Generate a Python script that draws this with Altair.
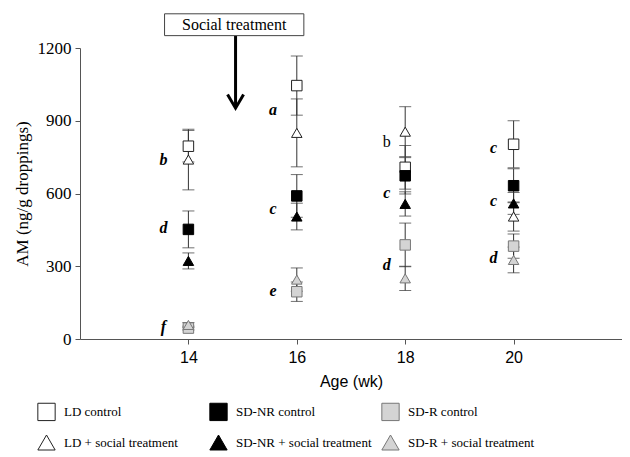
import altair as alt
import pandas as pd

weeks = [14, 16, 18, 20]
groups = ["LD control", "LD + social treatment", "SD-NR control",
          "SD-NR + social treatment", "SD-R control", "SD-R + social treatment"]

ld_ctrl_mean = [795, 1045, 708, 803]
ld_ctrl_err = [65, 122, 90, 97]
ld_soc_mean = [740, 850, 855, 505]
ld_soc_err = [125, 140, 103, 60]
sdnr_ctrl_mean = [452, 590, 673, 632]
sdnr_ctrl_err = [76, 88, 75, 70]
sdnr_soc_mean = [322, 505, 557, 559]
sdnr_soc_err = [33, 55, 50, 45]
sdr_ctrl_mean = [45, 195, 388, 383]
sdr_ctrl_err = [8, 40, 90, 50]
sdr_soc_mean = [58, 245, 250, 326]
sdr_soc_err = [10, 48, 50, 53]

means = [ld_ctrl_mean, ld_soc_mean, sdnr_ctrl_mean, sdnr_soc_mean, sdr_ctrl_mean, sdr_soc_mean]
errs = [ld_ctrl_err, ld_soc_err, sdnr_ctrl_err, sdnr_soc_err, sdr_ctrl_err, sdr_soc_err]

shapes = ["square", "triangle-up", "square", "triangle-up", "square", "triangle-up"]
fills = ["#ffffff", "#ffffff", "#000000", "#000000", "#d4d4d4", "#d4d4d4"]
strokes = ["#222222", "#222222", "#000000", "#000000", "#777777", "#777777"]

letter_text = ["b", "d", "f", "a", "c", "e", "b", "c", "d", "c", "c", "d"]
letter_x = [13.54, 13.54, 13.54, 15.56, 15.56, 15.56, 17.66, 17.66, 17.66, 19.63, 19.63, 19.63]
letter_y = [738, 458, 50, 944, 536, 198, 814, 602, 305, 788, 570, 335]
letter_italic = [True, True, True, True, True, True, False, True, True, True, True, True]

ann_text = ["Social treatment"]
box_x = [13.56]
box_x2 = [16.13]
box_y = [1251]
box_y2 = [1341]
arrow_x = [14.87]
arrow_top = [1251]
arrow_bottom = [960]
arrow_head = [985]

rows = []
for g, m, e in zip(groups, means, errs):
    for w, mv, ev in zip(weeks, m, e):
        rows.append({"week": w, "group": g, "mean": mv, "lo": mv - ev, "hi": mv + ev})
df = pd.DataFrame(rows)

letters = pd.DataFrame({"x": letter_x, "y": letter_y, "t": letter_text, "it": letter_italic})
ann = pd.DataFrame({"x": box_x, "x2": box_x2, "y": box_y, "y2": box_y2, "t": ann_text,
                    "ax": arrow_x, "at": arrow_top, "ab": arrow_bottom, "ah": arrow_head})

XT = "Age (wk)"
YT = "AM (ng/g droppings)"
xs = alt.Scale(domain=[12, 22], nice=False, zero=False)
ys = alt.Scale(domain=[0, 1200], nice=False)
xax = alt.Axis(values=weeks, grid=False, labelFont="Liberation Sans", labelFontSize=16,
               titleFont="Liberation Sans", titleFontSize=16, titleFontWeight="normal",
               labelPadding=5, titlePadding=8)
yax = alt.Axis(values=[0, 300, 600, 900, 1200], grid=False, format="d",
               labelFont="Liberation Serif", labelFontSize=17,
               titleFont="Liberation Serif", titleFontSize=17, titleFontWeight="normal",
               labelPadding=4, titlePadding=6)


def X(f):
    return alt.X(f, type="quantitative", scale=xs, axis=xax, title=XT)


def Y(f):
    return alt.Y(f, type="quantitative", scale=ys, axis=yax, title=YT)


base = alt.Chart(df)

bars = base.mark_rule(color="#333333", strokeWidth=1).encode(x=X("week"), y=Y("lo"), y2="hi")
cap_lo = base.mark_tick(orient="horizontal", size=12, thickness=1, color="#333333").encode(x=X("week"), y=Y("lo"))
cap_hi = base.mark_tick(orient="horizontal", size=12, thickness=1, color="#333333").encode(x=X("week"), y=Y("hi"))

legend = alt.Legend(orient="none", legendX=-43, legendY=354, columns=3, gridAlign="all",
                    columnPadding=7, rowPadding=10, symbolSize=300, labelOffset=8,
                    symbolStrokeWidth=1, labelLimit=300)

pts = base.mark_point(opacity=1, fillOpacity=1, strokeWidth=1, size=110).encode(
    x=X("week"), y=Y("mean"),
    shape=alt.Shape("group:N", scale=alt.Scale(domain=groups, range=shapes), legend=legend, title=None),
    fill=alt.Fill("group:N", scale=alt.Scale(domain=groups, range=fills), legend=legend, title=None),
    stroke=alt.Stroke("group:N", scale=alt.Scale(domain=groups, range=strokes), legend=legend, title=None),
)

lt = alt.Chart(letters)
let_it = lt.transform_filter("datum.it").mark_text(
    font="Liberation Serif", fontSize=16, fontStyle="italic", fontWeight="bold",
    align="center", baseline="middle", color="black").encode(x=X("x"), y=Y("y"), text="t:N")
let_up = lt.transform_filter("!datum.it").mark_text(
    font="Liberation Serif", fontSize=16, align="center", baseline="middle",
    color="black").encode(x=X("x"), y=Y("y"), text="t:N")

an = alt.Chart(ann)
box = an.mark_rect(fill="white", stroke="#444444", strokeWidth=1).encode(
    x=X("x"), x2="x2", y=Y("y"), y2="y2")
box_txt = an.transform_calculate(
    mid="(datum.x + datum.x2) / 2", ymid="(datum.y + datum.y2) / 2"
).mark_text(font="Liberation Serif", fontSize=16, color="black",
            align="center", baseline="middle").encode(x=X("mid"), y=Y("ymid"), text="t:N")
shaft = an.mark_rule(color="black", strokeWidth=3).encode(x=X("ax"), y=Y("at"), y2="ab")
head = an.mark_point(shape="M-1,-0.7L0,1L1,-0.7", size=256, filled=False, color="black",
                     strokeWidth=3, opacity=1).encode(x=X("ax"), y=Y("ah"))

chart = alt.layer(bars, cap_lo, cap_hi, pts, let_it, let_up, shaft, head, box, box_txt).properties(
    width=542, height=291,
    padding={"left": 5, "top": 5, "right": 0, "bottom": 0},
).configure_view(stroke=None).configure_axis(
    domainColor="#555555", tickColor="#555555", labelColor="black", titleColor="black", tickSize=5
).configure_legend(
    labelFont="Liberation Serif", labelFontSize=13, labelColor="black"
)

chart.save("out.html", embed_options={"renderer": "svg", "actions": False})
